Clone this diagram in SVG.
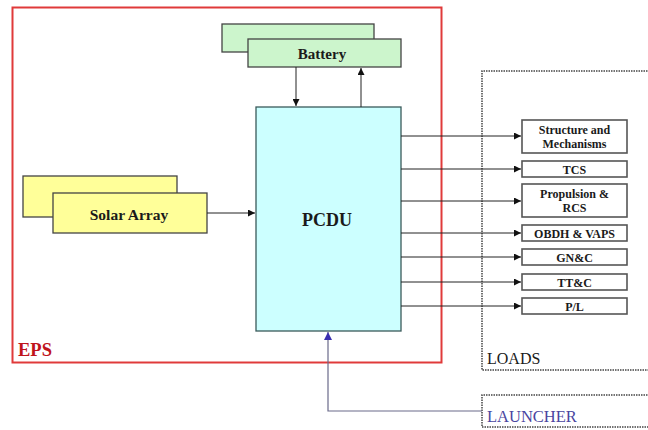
<svg xmlns="http://www.w3.org/2000/svg" width="648" height="430" viewBox="0 0 648 430">
<defs>
<style>
.box{stroke:#444;stroke-width:1.3}
.load{fill:#fff;stroke:#555;stroke-width:1.6}
.lt{font-size:12px;text-anchor:middle}
.conn{stroke:#222;stroke-width:1;fill:none}
.dot{fill:none;stroke:#444;stroke-width:1.5;stroke-dasharray:1.5 1}
</style>
<marker id="ah" viewBox="0 0 10 10" refX="10" refY="5" markerWidth="7" markerHeight="7" orient="auto" markerUnits="userSpaceOnUse"><path d="M0,0 L10,5 L0,10 z" fill="#111"/></marker>
<marker id="ahb" viewBox="0 0 10 10" refX="10" refY="5" markerWidth="8" markerHeight="8" orient="auto" markerUnits="userSpaceOnUse"><path d="M0,0 L10,5 L0,10 z" fill="#3a2fb0"/></marker>
</defs>
<rect width="648" height="430" fill="#fff"/>
<g font-family="'Liberation Serif', 'DejaVu Serif', serif" fill="#1a1a1a">
<g id="eps">
<rect x="12.5" y="7.5" width="429" height="355" fill="none" stroke="#e03a3a" stroke-width="2"/>
<text x="18" y="356" font-size="18.5" font-weight="bold" fill="#c0141c">EPS</text>
</g>
<g id="loads">
<path class="dot" d="M650,71 H482 V370 H650"/>
<text x="487" y="364" font-size="16">LOADS</text>
</g>
<g id="launcher">
<path class="dot" d="M650,395 H482 V427 H650"/>
<text x="487" y="422" font-size="16.5" fill="#4a45a0">LAUNCHER</text>
</g>
<g id="battery">
<rect class="box" x="222" y="24" width="152" height="28" fill="#ccf5cc"/>
<rect class="box" x="248" y="39" width="153" height="28" fill="#ccf5cc"/>
<text x="322" y="59" font-size="15" font-weight="bold" text-anchor="middle">Battery</text>
</g>
<g id="solar">
<rect class="box" x="23" y="176" width="154" height="41" fill="#ffff99"/>
<rect class="box" x="53" y="193" width="154" height="40" fill="#ffff99"/>
<text x="129" y="220" font-size="15.5" font-weight="bold" text-anchor="middle">Solar Array</text>
</g>
<g id="pcdu">
<rect x="256" y="107" width="145" height="224" fill="#ccffff" stroke="#3a5a5a" stroke-width="1.3"/>
<text x="327" y="226" font-size="18" font-weight="bold" text-anchor="middle">PCDU</text>
</g>
<g font-weight="bold">
<g id="structure">
<rect class="load" x="522" y="120" width="105" height="33"/>
<text class="lt" x="574.5" y="134">Structure and</text>
<text class="lt" x="574.5" y="148">Mechanisms</text>
</g>
<g id="tcs">
<rect class="load" x="522" y="161" width="105" height="16"/>
<text class="lt" x="574.5" y="173.5">TCS</text>
</g>
<g id="propulsion">
<rect class="load" x="522" y="184" width="105" height="33"/>
<text class="lt" x="574.5" y="198">Propulsion &amp;</text>
<text class="lt" x="574.5" y="212">RCS</text>
</g>
<g id="obdh">
<rect class="load" x="522" y="225" width="105" height="16"/>
<text class="lt" x="574.5" y="237.5">OBDH &amp; VAPS</text>
</g>
<g id="gnc">
<rect class="load" x="522" y="249" width="105" height="16"/>
<text class="lt" x="574.5" y="261.5">GN&amp;C</text>
</g>
<g id="ttc">
<rect class="load" x="522" y="274" width="105" height="16"/>
<text class="lt" x="574.5" y="286.5">TT&amp;C</text>
</g>
<g id="pl">
<rect class="load" x="522" y="298" width="105" height="16"/>
<text class="lt" x="574.5" y="310.5">P/L</text>
</g>
</g>
</g>
<g id="connectors">
<line class="conn" x1="296" y1="67" x2="296" y2="106" marker-end="url(#ah)"/>
<line class="conn" x1="361" y1="107" x2="361" y2="68" marker-end="url(#ah)"/>
<line class="conn" x1="207" y1="213" x2="255" y2="213" marker-end="url(#ah)"/>
<line class="conn" x1="401" y1="136" x2="521" y2="136" marker-end="url(#ah)"/>
<line class="conn" x1="401" y1="169" x2="521" y2="169" marker-end="url(#ah)"/>
<line class="conn" x1="401" y1="201" x2="521" y2="201" marker-end="url(#ah)"/>
<line class="conn" x1="401" y1="233" x2="521" y2="233" marker-end="url(#ah)"/>
<line class="conn" x1="401" y1="257" x2="521" y2="257" marker-end="url(#ah)"/>
<line class="conn" x1="401" y1="282" x2="521" y2="282" marker-end="url(#ah)"/>
<line class="conn" x1="401" y1="306" x2="521" y2="306" marker-end="url(#ah)"/>
<path d="M482,411 H328 V332" fill="none" stroke="#6a6a8a" stroke-width="1.2" marker-end="url(#ahb)"/>
</g>
</svg>
